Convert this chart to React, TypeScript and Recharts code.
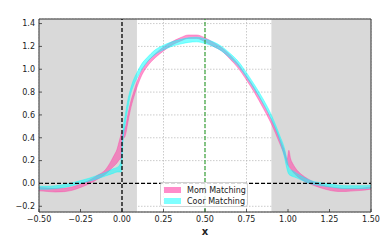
import React from 'react';
import {
  ComposedChart,
  Area,
  XAxis,
  YAxis,
  CartesianGrid,
  ReferenceArea,
  ReferenceLine,
} from 'recharts';

// sample positions along x
const xs = [
  -0.5, -0.45, -0.4, -0.35, -0.3, -0.25, -0.2, -0.15, -0.1, -0.05,
  -0.03, -0.015, -0.005, 0, 0.005, 0.02, 0.035, 0.05, 0.07, 0.09,
  0.12, 0.15, 0.2, 0.25, 0.3, 0.35, 0.4, 0.45, 0.5, 0.55,
  0.6, 0.65, 0.7, 0.75, 0.8, 0.85, 0.9, 0.95, 0.98, 0.995,
  1.005, 1.015, 1.03, 1.05, 1.08, 1.12, 1.16, 1.2, 1.25, 1.3,
  1.35, 1.4, 1.45, 1.5,
];

// Mom Matching band
const momLow = [
  -0.065, -0.07, -0.075, -0.072, -0.06, -0.035, -0.005, 0.035, 0.08, 0.15,
  0.18, 0.21, 0.22, 0.33, 0.38, 0.42, 0.53, 0.64, 0.75, 0.84,
  0.95, 1.02, 1.1, 1.16, 1.21, 1.245, 1.27, 1.27, 1.24, 1.2,
  1.16, 1.09, 1.01, 0.905, 0.79, 0.66, 0.52, 0.35, 0.24, 0.17,
  0.15, 0.13, 0.1, 0.07, 0.035, 0.005, -0.02, -0.04, -0.06, -0.07,
  -0.07, -0.065, -0.06, -0.05,
];
const momHigh = [
  -0.035, -0.04, -0.045, -0.042, -0.03, -0.005, 0.025, 0.07, 0.12, 0.24,
  0.3, 0.38, 0.43, 0.45, 0.46, 0.49, 0.6, 0.7, 0.8, 0.89,
  0.995, 1.06, 1.135, 1.195, 1.24, 1.275, 1.3, 1.3, 1.275, 1.235,
  1.19, 1.125, 1.045, 0.94, 0.83, 0.7, 0.56, 0.39, 0.28, 0.21,
  0.29, 0.22, 0.17, 0.125, 0.08, 0.04, 0.01, -0.01, -0.03, -0.04,
  -0.045, -0.045, -0.04, -0.03,
];

// Coor Matching band
const coorLow = [
  -0.05, -0.05, -0.045, -0.035, -0.02, 0.0, 0.02, 0.04, 0.065, 0.09,
  0.1, 0.1, 0.1, 0.2, 0.35, 0.53, 0.66, 0.77, 0.86, 0.92,
  1.0, 1.06, 1.13, 1.17, 1.2, 1.22, 1.235, 1.24, 1.225, 1.2,
  1.16, 1.1, 1.03, 0.93, 0.82, 0.7, 0.56, 0.38, 0.22, 0.12,
  0.08, 0.07, 0.06, 0.05, 0.03, 0.005, -0.01, -0.02, -0.03, -0.04,
  -0.045, -0.045, -0.045, -0.04,
];
const coorHigh = [
  -0.025, -0.025, -0.02, -0.01, 0.005, 0.025, 0.045, 0.07, 0.095, 0.13,
  0.14, 0.16, 0.2, 0.32, 0.45, 0.6, 0.73, 0.82, 0.91, 0.97,
  1.05, 1.1, 1.17, 1.21, 1.24, 1.26, 1.275, 1.28, 1.265, 1.24,
  1.2, 1.14, 1.07, 0.97, 0.86, 0.74, 0.6, 0.42, 0.3, 0.2,
  0.14, 0.12, 0.11, 0.09, 0.065, 0.035, 0.015, 0.005, -0.005, -0.015,
  -0.02, -0.02, -0.02, -0.015,
];

const xTicks = [-0.5, -0.25, 0, 0.25, 0.5, 0.75, 1, 1.25, 1.5];
const yTicks = [-0.2, 0, 0.2, 0.4, 0.6, 0.8, 1.0, 1.2, 1.4];
const shaded = [[-0.5, 0.09], [0.9, 1.5]];
const names = ['Mom Matching', 'Coor Matching'];

const data = xs.map((x, i) => ({
  x,
  mom: [momLow[i], momHigh[i]],
  coor: [coorLow[i], coorHigh[i]],
}));

const PINK = '#ff3fa6';
const CYAN = '#00ffff';
const FONT = 'DejaVu Sans, sans-serif';

const minus = (s: string) => s.replace('-', '\u2212');

const XTick = (props: any) => {
  const { x, y, payload } = props;
  return (
    <g>
      <line x1={x} x2={x} y1={y - 4} y2={y - 7} stroke="#333" strokeWidth={0.8} />
      <text x={x} y={y} dy="0.71em" textAnchor="middle" fontSize={8} fontFamily={FONT} fill="#222">
        {minus(payload.value.toFixed(2))}
      </text>
    </g>
  );
};

const YTick = (props: any) => {
  const { x, y, payload } = props;
  return (
    <g>
      <line x1={x + 4} x2={x + 7} y1={y} y2={y} stroke="#333" strokeWidth={0.8} />
      <text x={x} y={y} dy="0.355em" textAnchor="end" fontSize={8} fontFamily={FONT} fill="#222">
        {minus(payload.value.toFixed(1))}
      </text>
    </g>
  );
};

export default function App() {
  return (
    <div style={{ position: 'absolute', left: 0, top: 0, width: 390, height: 241, background: '#fff' }}>
      <ComposedChart width={390} height={241} data={data} margin={{ top: 19, right: 19, left: 0, bottom: 0 }}>
        {shaded.map(([a, b], i) => (
          <ReferenceArea key={`shade-${i}`} x1={a} x2={b} fill="#d9d9d9" fillOpacity={1} stroke="none" ifOverflow="hidden" />
        ))}
        <CartesianGrid strokeDasharray="1.5 1.5" stroke="#b4b4b4" strokeWidth={0.7} />
        <XAxis
          dataKey="x"
          type="number"
          domain={[-0.5, 1.5]}
          ticks={xTicks}
          allowDataOverflow
          height={29}
          tickSize={0}
          tickMargin={4}
          tickLine={false}
          axisLine={false}
          tick={<XTick />}
          interval={0}
          label={{ value: 'x', position: 'insideBottom', offset: 6, fontSize: 10, fontWeight: 'bold', fill: '#222', fontFamily: FONT }}
        />
        <YAxis
          type="number"
          domain={[-0.25, 1.44]}
          ticks={yTicks}
          allowDataOverflow
          width={39}
          tickSize={0}
          tickMargin={4}
          tickLine={false}
          axisLine={false}
          tick={<YTick />}
          interval={0}
        />
        <Area
          type="monotone"
          dataKey="mom"
          name={names[0]}
          fill={PINK}
          fillOpacity={0.55}
          stroke={PINK}
          strokeOpacity={0.5}
          strokeWidth={0.8}
          isAnimationActive={false}
          dot={false}
          activeDot={false}
        />
        <Area
          type="monotone"
          dataKey="coor"
          name={names[1]}
          fill={CYAN}
          fillOpacity={0.5}
          stroke={CYAN}
          strokeOpacity={0.5}
          strokeWidth={0.8}
          isAnimationActive={false}
          dot={false}
          activeDot={false}
        />
        <ReferenceLine y={0} stroke="#000" strokeDasharray="4 2" strokeWidth={1.3} />
        <ReferenceLine x={0} stroke="#000" strokeDasharray="4 2" strokeWidth={1.3} />
        <ReferenceLine x={0.5} stroke="#2ca02c" strokeDasharray="4 2" strokeWidth={1.1} />
        <ReferenceArea x1={-0.5} x2={1.5} y1={-0.25} y2={1.44} fill="none" stroke="#333" strokeWidth={1} ifOverflow="visible" />
      </ComposedChart>
      <div
        style={{
          position: 'absolute',
          left: 160,
          top: 182,
          width: 88,
          height: 25,
          boxSizing: 'border-box',
          background: 'rgba(255,255,255,0.85)',
          border: '1px solid #d0d0d0',
          borderRadius: 3,
          fontFamily: FONT,
          fontSize: 8,
          color: '#222',
        }}
      >
        {names.map((n, i) => (
          <div key={n} style={{ position: 'absolute', left: 3, top: 3 + i * 11, height: 8, display: 'flex', alignItems: 'center', whiteSpace: 'nowrap' }}>
            <span style={{ display: 'inline-block', width: 17, height: 6, background: i === 0 ? PINK : CYAN, opacity: i === 0 ? 0.6 : 0.5, marginRight: 6 }} />
            <span>{n}</span>
          </div>
        ))}
      </div>
    </div>
  );
}
